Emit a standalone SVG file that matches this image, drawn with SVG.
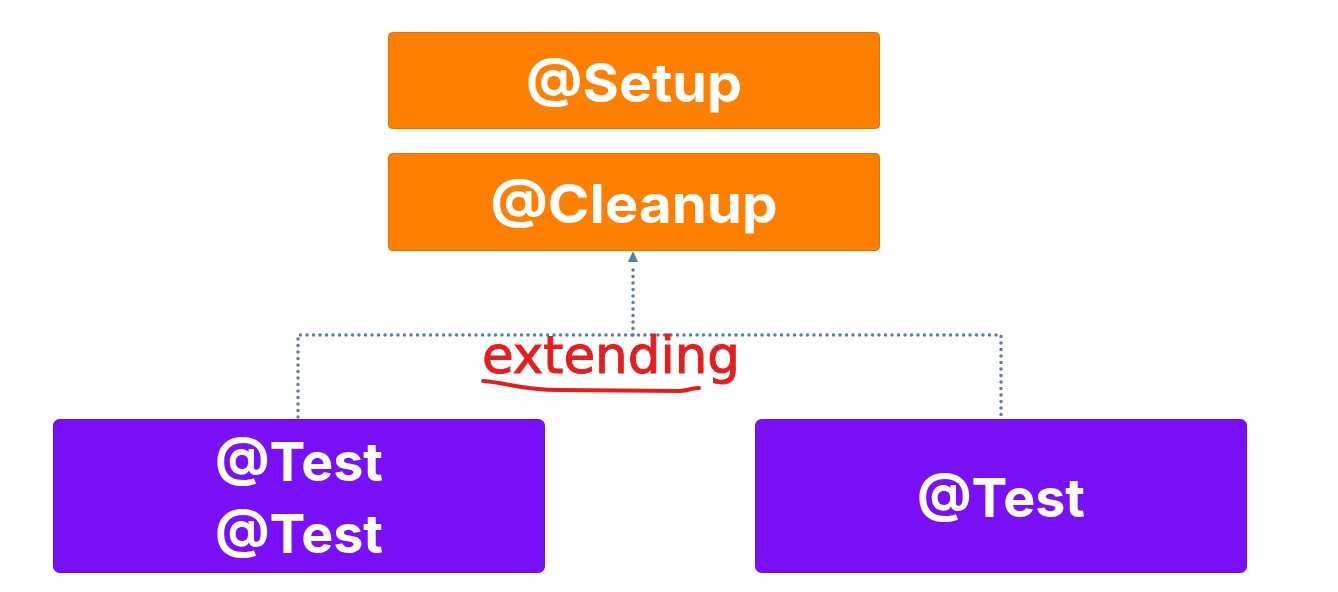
<svg xmlns="http://www.w3.org/2000/svg" width="1338" height="592" viewBox="0 0 1338 592">
<style>
.orange{fill:#FF7F00;stroke:#E07000;stroke-width:1}
.purple{fill:#7A10F8;stroke:#6A0EE0;stroke-width:1}
.lbl{font-family:Inter,"Noto Sans",sans-serif;font-weight:700;fill:#FFFFFF;text-anchor:middle;font-size:54px}
.dot{fill:none;stroke:#5B7CA3;stroke-width:3.5;stroke-linecap:round;stroke-dasharray:0 6.5}
</style>
<rect width="1338" height="592" fill="#FFFFFF"/>
<g id="connectors">
<path class="dot" d="M298,417 V335 H1001 V417"/>
<path class="dot" d="M633,335 V264"/>
<path d="M633,251 L628,262 L638,262 Z" fill="#5B7CA3"/>
</g>
<g id="setup">
<rect class="orange" x="388.5" y="32.5" width="491" height="96" rx="4"/>
<text class="lbl" x="634" y="102" textLength="216" lengthAdjust="spacingAndGlyphs">@Setup</text>
</g>
<g id="cleanup">
<rect class="orange" x="388.5" y="153.5" width="491" height="97" rx="4"/>
<text class="lbl" x="634" y="223" textLength="287" lengthAdjust="spacingAndGlyphs">@Cleanup</text>
</g>
<g id="test-left">
<rect class="purple" x="53.5" y="419.5" width="491" height="153" rx="6"/>
<text class="lbl" x="299" y="481" textLength="168" lengthAdjust="spacingAndGlyphs">@Test</text>
<text class="lbl" x="299" y="553" textLength="168" lengthAdjust="spacingAndGlyphs">@Test</text>
</g>
<g id="test-right">
<rect class="purple" x="755.5" y="419.5" width="491" height="153" rx="6"/>
<text class="lbl" x="1001" y="517" textLength="168" lengthAdjust="spacingAndGlyphs">@Test</text>
</g>
<g id="annotation">
<text x="482" y="373" font-family="'DejaVu Sans',sans-serif" font-size="52" fill="#E41E1E" stroke="#E41E1E" stroke-width="1" textLength="258" lengthAdjust="spacingAndGlyphs">extending</text>
<path d="M483,381 C510,383 520,390 560,390 L680,391 C690,390 692,388 699,388" fill="none" stroke="#E41E1E" stroke-width="4" stroke-linecap="round"/>
</g>
</svg>
